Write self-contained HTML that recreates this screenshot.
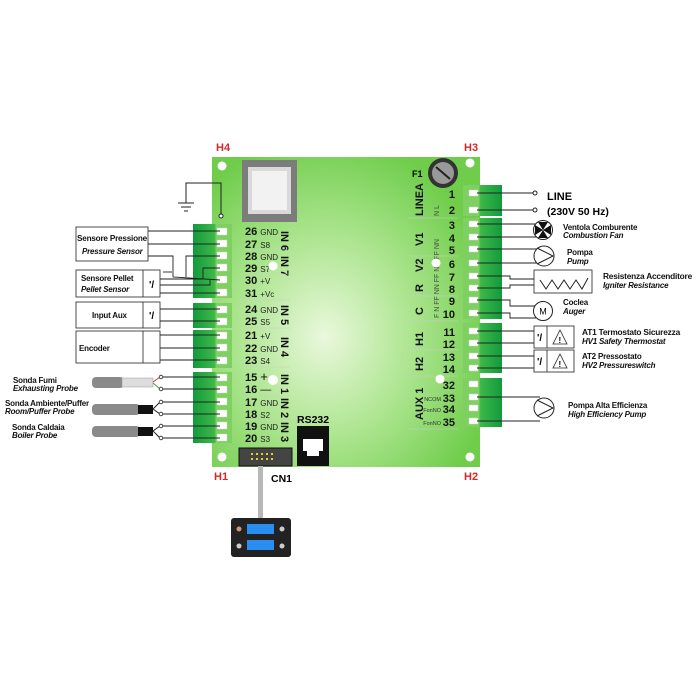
<!DOCTYPE html>
<html><head><meta charset="utf-8"><style>
html,body{margin:0;padding:0;background:#fff;width:700px;height:700px;overflow:hidden}
svg{display:block}
text{font-family:"Liberation Sans",sans-serif}
.b{font-weight:bold}
.lbl{font-size:8px;font-weight:bold;fill:#111;letter-spacing:-0.2px}
.it{font-style:italic}
.n{font-size:11px;font-weight:bold;fill:#111}
.s{font-size:8px;fill:#222;font-weight:normal}
</style></head><body>
<svg width="700" height="700" viewBox="0 0 700 700" xmlns="http://www.w3.org/2000/svg">
<defs>
<radialGradient id="bg" cx="0.42" cy="0.58" r="0.65">
<stop offset="0" stop-color="#eaf8dc"/><stop offset="0.5" stop-color="#ade590"/><stop offset="1" stop-color="#6fcd4b"/>
</radialGradient>
<linearGradient id="tl" x1="0" x2="1"><stop offset="0" stop-color="#139a3c"/><stop offset="0.55" stop-color="#3cb848"/><stop offset="0.6" stop-color="#7ed160"/><stop offset="1" stop-color="#7ed160"/></linearGradient>
<linearGradient id="tr" x1="0" x2="1"><stop offset="0" stop-color="#7ed160"/><stop offset="0.4" stop-color="#7ed160"/><stop offset="0.45" stop-color="#3cb848"/><stop offset="1" stop-color="#139a3c"/></linearGradient>
</defs>
<rect x="212" y="157" width="268" height="310" fill="url(#bg)"/>
<circle cx="222" cy="166" r="4.5" fill="#fff"/><circle cx="470" cy="163" r="4.5" fill="#fff"/>
<circle cx="222" cy="457" r="4.5" fill="#fff"/><circle cx="470" cy="457" r="4.5" fill="#fff"/>
<text x="216" y="151" class="b" font-size="11" fill="#d42a2a">H4</text>
<text x="464" y="151" class="b" font-size="11" fill="#d42a2a">H3</text>
<text x="214" y="480" class="b" font-size="11" fill="#d42a2a">H1</text>
<text x="464" y="480" class="b" font-size="11" fill="#d42a2a">H2</text>
<rect x="242" y="160" width="55" height="62" fill="#7c7c7c"/>
<rect x="248" y="167" width="43" height="47" fill="#d9d9d9"/>
<rect x="252" y="171" width="35" height="39" fill="#f2f2f2"/>
<circle cx="443" cy="173" r="15" fill="#333"/><circle cx="443" cy="173" r="11" fill="#999"/>
<line x1="436" y1="167" x2="450" y2="179" stroke="#222" stroke-width="2"/>
<text x="412" y="177" class="b" font-size="9">F1</text>
<polyline points="221,214 221,183 186,183 186,203" fill="none" stroke="#222" stroke-width="1"/>
<circle cx="221" cy="216" r="2" fill="#fff" stroke="#222"/>
<line x1="178" y1="203" x2="194" y2="203" stroke="#222"/><line x1="181" y1="207" x2="191" y2="207" stroke="#222"/><line x1="184" y1="211" x2="188" y2="211" stroke="#222"/>
<g fill="url(#tl)">
<rect x="193" y="224" width="39" height="74"/><rect x="193" y="303" width="39" height="25"/>
<rect x="193" y="330" width="39" height="38"/><rect x="193" y="372" width="39" height="71"/>
</g>
<g fill="#fff" stroke="#ccc" stroke-width="0.5">
<rect x="217" y="228" width="10" height="7"/><rect x="217" y="240" width="10" height="7"/><rect x="217" y="252" width="10" height="7"/><rect x="217" y="264" width="10" height="7"/><rect x="217" y="276" width="10" height="7"/><rect x="217" y="289" width="10" height="7"/>
<rect x="217" y="306" width="10" height="7"/><rect x="217" y="318" width="10" height="7"/>
<rect x="217" y="332" width="10" height="7"/><rect x="217" y="344" width="10" height="7"/><rect x="217" y="357" width="10" height="7"/>
<rect x="217" y="374" width="10" height="7"/><rect x="217" y="386" width="10" height="7"/><rect x="217" y="398" width="10" height="7"/><rect x="217" y="410" width="10" height="7"/><rect x="217" y="422" width="10" height="7"/><rect x="217" y="434" width="10" height="7"/>
</g>
<g>
<text x="245" y="235" class="n">26 <tspan class="s" font-size="9">GND</tspan></text>
<text x="245" y="248" class="n">27 <tspan class="s">S8</tspan></text>
<text x="245" y="260" class="n">28 <tspan class="s" font-size="9">GND</tspan></text>
<text x="245" y="272" class="n">29 <tspan class="s">S7</tspan></text>
<text x="245" y="284" class="n">30 <tspan class="s">+V</tspan></text>
<text x="245" y="297" class="n">31 <tspan class="s">+Vc</tspan></text>
<text x="245" y="313" class="n">24 <tspan class="s" font-size="9">GND</tspan></text>
<text x="245" y="325" class="n">25 <tspan class="s">S5</tspan></text>
<text x="245" y="339" class="n">21 <tspan class="s">+V</tspan></text>
<text x="245" y="352" class="n">22 <tspan class="s">GND</tspan></text>
<text x="245" y="364" class="n">23 <tspan class="s">S4</tspan></text>
<text x="245" y="381" class="n">15 <tspan font-size="13" font-weight="normal">+</tspan></text>
<text x="245" y="393" class="n">16 <tspan font-size="11" font-weight="normal">—</tspan></text>
<text x="245" y="406" class="n">17 <tspan class="s" font-size="9">GND</tspan></text>
<text x="245" y="418" class="n">18 <tspan class="s">S2</tspan></text>
<text x="245" y="430" class="n">19 <tspan class="s" font-size="9">GND</tspan></text>
<text x="245" y="442" class="n">20 <tspan class="s">S3</tspan></text>
</g>
<g class="n" font-size="10">
<text transform="translate(281,231) rotate(90)">IN 6</text>
<text transform="translate(281,256) rotate(90)">IN 7</text>
<text transform="translate(281,305) rotate(90)">IN 5</text>
<text transform="translate(281,337) rotate(90)">IN 4</text>
<text transform="translate(281,374) rotate(90)">IN 1</text>
<text transform="translate(281,398) rotate(90)">IN 2</text>
<text transform="translate(281,422) rotate(90)">IN 3</text>
</g>
<g stroke="#ccc" stroke-width="0.6">
<line x1="243" y1="250" x2="290" y2="250"/><line x1="243" y1="274" x2="290" y2="274"/><line x1="243" y1="300" x2="290" y2="300"/><line x1="243" y1="328" x2="290" y2="328"/><line x1="243" y1="367" x2="290" y2="367"/><line x1="243" y1="396" x2="290" y2="396"/><line x1="243" y1="420" x2="290" y2="420"/>
</g>
<circle cx="273" cy="266" r="4.5" fill="#fff"/><circle cx="273" cy="380" r="5" fill="#fff"/>
<g fill="#fff" stroke="#222" stroke-width="0.8">
<rect x="76" y="227" width="72" height="34"/>
<rect x="76" y="270" width="84" height="27"/><line x1="143" y1="270" x2="143" y2="297"/>
<rect x="76" y="302" width="84" height="26"/><line x1="143" y1="302" x2="143" y2="328"/>
<rect x="76" y="331" width="84" height="32"/><line x1="143" y1="331" x2="143" y2="363"/>
</g>
<text x="77" y="241" class="lbl" textLength="70" lengthAdjust="spacingAndGlyphs">Sensore Pressione</text>
<text x="82" y="254" class="lbl it">Pressure Sensor</text>
<text x="81" y="281" class="lbl">Sensore Pellet</text>
<text x="81" y="292" class="lbl it">Pellet Sensor</text>
<text x="92" y="318" class="lbl">Input Aux</text>
<text x="79" y="351" class="lbl">Encoder</text>
<text x="149" y="288" font-size="10" class="b">ʹ/</text>
<text x="149" y="319" font-size="10" class="b">ʹ/</text>
<g fill="none" stroke="#222" stroke-width="0.9">
<line x1="148" y1="231" x2="220" y2="231"/><line x1="148" y1="244" x2="220" y2="244"/>
<polyline points="148,256 173,256 173,277 220,280"/>
<polyline points="186,277 186,256 220,256"/>
<polyline points="160,279 203,279 203,268 220,268"/>
<polyline points="160,285 210,285 210,280"/>
<line x1="160" y1="293" x2="220" y2="293"/>
<polyline points="163,272 172,272"/>
<line x1="160" y1="309" x2="220" y2="309"/><line x1="160" y1="321" x2="220" y2="321"/>
<line x1="160" y1="335" x2="220" y2="335"/><line x1="160" y1="348" x2="220" y2="348"/><line x1="160" y1="360" x2="220" y2="360"/>
<line x1="162" y1="377" x2="220" y2="377"/><line x1="162" y1="389" x2="220" y2="389"/>
<line x1="162" y1="402" x2="220" y2="402"/><line x1="162" y1="414" x2="220" y2="414"/>
<line x1="162" y1="426" x2="220" y2="426"/><line x1="162" y1="438" x2="220" y2="438"/>
</g>
<rect x="92" y="377" width="32" height="11" rx="4" fill="#8a8a8a"/>
<rect x="122" y="378" width="31" height="9" fill="#ddd" stroke="#999" stroke-width="0.5"/>
<line x1="153" y1="382" x2="160" y2="377" stroke="#d33"/><line x1="153" y1="383" x2="160" y2="389" stroke="#3a3"/>
<rect x="92" y="404" width="48" height="11" rx="4" fill="#8a8a8a"/><rect x="138" y="405" width="15" height="9" fill="#111"/>
<polyline points="160,402 153,409 160,414" fill="none" stroke="#222"/>
<rect x="92" y="426" width="48" height="11" rx="4" fill="#8a8a8a"/><rect x="138" y="427" width="15" height="9" fill="#111"/>
<polyline points="160,426 153,431 160,438" fill="none" stroke="#222"/>
<g fill="#fff" stroke="#222" stroke-width="0.8">
<circle cx="161" cy="377" r="1.8"/><circle cx="161" cy="389" r="1.8"/><circle cx="161" cy="402" r="1.8"/><circle cx="161" cy="414" r="1.8"/><circle cx="161" cy="426" r="1.8"/><circle cx="161" cy="438" r="1.8"/>
</g>
<text x="13" y="383" class="lbl">Sonda Fumi</text><text x="13" y="391" class="lbl it">Exhausting Probe</text>
<text x="5" y="406" class="lbl">Sonda Ambiente/Puffer</text><text x="5" y="414" class="lbl it">Room/Puffer Probe</text>
<text x="12" y="430" class="lbl">Sonda Caldaia</text><text x="12" y="438" class="lbl it">Boiler Probe</text>
<g fill="url(#tr)">
<rect x="463" y="185" width="39" height="31"/><rect x="463" y="218" width="39" height="101"/>
<rect x="463" y="323" width="39" height="50"/><rect x="463" y="378" width="39" height="49"/>
</g>
<g fill="#fff" stroke="#ccc" stroke-width="0.5">
<rect x="469" y="190" width="9" height="6"/><rect x="469" y="207" width="9" height="6"/>
<rect x="469" y="221" width="9" height="6"/><rect x="469" y="234" width="9" height="6"/><rect x="469" y="246" width="9" height="6"/><rect x="469" y="260" width="9" height="6"/><rect x="469" y="273" width="9" height="6"/><rect x="469" y="285" width="9" height="6"/><rect x="469" y="297" width="9" height="6"/><rect x="469" y="310" width="9" height="6"/>
<rect x="469" y="328" width="9" height="6"/><rect x="469" y="340" width="9" height="6"/><rect x="469" y="353" width="9" height="6"/><rect x="469" y="365" width="9" height="6"/>
<rect x="469" y="381" width="9" height="6"/><rect x="469" y="394" width="9" height="6"/><rect x="469" y="405" width="9" height="6"/><rect x="469" y="418" width="9" height="6"/>
</g>
<g class="n" text-anchor="end">
<text x="455" y="198">1</text><text x="455" y="214">2</text><text x="455" y="229">3</text><text x="455" y="242">4</text><text x="455" y="254">5</text><text x="455" y="268">6</text><text x="455" y="281">7</text><text x="455" y="293">8</text><text x="455" y="305">9</text><text x="455" y="318">10</text>
<text x="455" y="336">11</text><text x="455" y="348">12</text><text x="455" y="361">13</text><text x="455" y="373">14</text>
<text x="455" y="389">32</text><text x="455" y="402">33</text><text x="455" y="413">34</text><text x="455" y="426">35</text>
</g>
<g font-size="5.5" fill="#333" text-anchor="end">
<text x="441" y="401">NCOM</text><text x="441" y="412">FonNO</text><text x="441" y="425">FonNO</text>
</g>
<g class="n" font-size="10">
<text transform="translate(423,216) rotate(-90)">LINEA</text>
<text transform="translate(423,246) rotate(-90)">V1</text>
<text transform="translate(423,272) rotate(-90)">V2</text>
<text transform="translate(423,292) rotate(-90)">R</text>
<text transform="translate(423,315) rotate(-90)">C</text>
<text transform="translate(423,346) rotate(-90)">H1</text>
<text transform="translate(423,371) rotate(-90)">H2</text>
<text transform="translate(423,420) rotate(-90)">AUX 1</text>
</g>
<g font-size="7" fill="#444">
<text transform="translate(439,216) rotate(-90)">N  L</text>
<text transform="translate(439,318) rotate(-90)">F N FF NN FF NN FF NN</text>
</g>
<g stroke="#ccc" stroke-width="0.6">
<line x1="408" y1="218" x2="458" y2="218"/><line x1="408" y1="256" x2="458" y2="256"/><line x1="408" y1="296" x2="458" y2="296"/><line x1="408" y1="321" x2="458" y2="321"/><line x1="408" y1="350" x2="458" y2="350"/><line x1="408" y1="376" x2="458" y2="376"/><line x1="408" y1="429" x2="458" y2="429"/>
</g>
<circle cx="436" cy="263" r="4.5" fill="#fff"/><circle cx="440" cy="379" r="4.5" fill="#fff"/>
<g fill="none" stroke="#222" stroke-width="0.9">
<line x1="477" y1="193" x2="533" y2="193"/><line x1="477" y1="210" x2="533" y2="210"/>
<line x1="477" y1="224" x2="543" y2="224"/><line x1="477" y1="237" x2="543" y2="237"/>
<line x1="477" y1="249" x2="540" y2="249"/><line x1="477" y1="263" x2="540" y2="263"/>
<polyline points="477,276 510,276 510,279 534,279"/><polyline points="477,288 510,288 510,285 534,285"/>
<polyline points="477,300 510,300 510,306 536,306"/><polyline points="477,313 510,313 510,318 536,318"/>
<line x1="477" y1="331" x2="534" y2="331"/><line x1="477" y1="343" x2="534" y2="343"/>
<line x1="477" y1="356" x2="534" y2="356"/><line x1="477" y1="368" x2="534" y2="368"/>
<line x1="477" y1="397" x2="540" y2="397"/><line x1="477" y1="421" x2="540" y2="421"/>
</g>
<circle cx="535" cy="193" r="2" fill="#fff" stroke="#222"/><circle cx="535" cy="210" r="2" fill="#fff" stroke="#222"/>
<text x="547" y="200" class="b" font-size="11">LINE</text>
<text x="547" y="215" class="b" font-size="10.5">(230V 50 Hz)</text>
<circle cx="543" cy="230" r="9.5" fill="#fff" stroke="#222"/>
<path d="M543,230 L538,222 L548,222Z M543,230 L538,238 L548,238Z M543,230 L535,225 L535,235Z M543,230 L551,225 L551,235Z" fill="#111"/>
<text x="563" y="230" class="lbl">Ventola Comburente</text><text x="563" y="238" class="lbl it">Combustion Fan</text>
<circle cx="544" cy="256" r="10" fill="#fff" stroke="#222"/><polyline points="537,248 553,256 537,264" fill="none" stroke="#222"/>
<text x="567" y="255" class="lbl">Pompa</text><text x="567" y="264" class="lbl it">Pump</text>
<rect x="534" y="270" width="58" height="23" fill="#fff" stroke="#222" stroke-width="0.8"/>
<polyline points="540,280 546,289 552,280 558,289 564,280 570,289 576,280 582,289 588,278" fill="none" stroke="#222"/>
<text x="603" y="279" class="lbl" textLength="89" lengthAdjust="spacingAndGlyphs">Resistenza Accenditore</text><text x="603" y="288" class="lbl it">Igniter Resistance</text>
<circle cx="543" cy="311" r="9.5" fill="#fff" stroke="#222"/><text x="543" y="314.5" font-size="9" text-anchor="middle">M</text>
<text x="563" y="305" class="lbl">Coclea</text><text x="563" y="314" class="lbl it">Auger</text>
<g fill="#fff" stroke="#222" stroke-width="0.8">
<rect x="534" y="326" width="40" height="22"/><line x1="547" y1="326" x2="547" y2="348"/>
<rect x="534" y="350" width="40" height="22"/><line x1="547" y1="350" x2="547" y2="372"/>
<polygon points="560,330 553,344 567,344"/><polygon points="560,354 553,368 567,368"/>
</g>
<text x="558.5" y="343" font-size="8" class="b">!</text><text x="558.5" y="367" font-size="8" class="b">!</text>
<text x="537" y="341" font-size="10" class="b">ʹ/</text><text x="537" y="365" font-size="10" class="b">ʹ/</text>
<text x="582" y="335" class="lbl" textLength="98" lengthAdjust="spacingAndGlyphs">AT1 Termostato Sicurezza</text><text x="582" y="344" class="lbl it">HV1 Safety Thermostat</text>
<text x="582" y="359" class="lbl">AT2 Pressostato</text><text x="582" y="368" class="lbl it">HV2 Pressureswitch</text>
<circle cx="544" cy="408" r="10" fill="#fff" stroke="#222"/><polyline points="537,400 553,408 537,416" fill="none" stroke="#222"/>
<text x="568" y="408" class="lbl">Pompa Alta Efficienza</text><text x="568" y="417" class="lbl it">High Efficiency Pump</text>
<text x="297" y="423" class="b" font-size="10.5">RS232</text>
<rect x="297" y="426" width="32" height="40" fill="#111"/>
<path d="M303,439 h20 v12 h-4 v5 h-12 v-5 h-4z" fill="#fff"/>
<rect x="239" y="448" width="53" height="18" fill="#444" stroke="#111"/>
<g fill="#e8d020"><rect x="251" y="453" width="2" height="2"/><rect x="256" y="453" width="2" height="2"/><rect x="261" y="453" width="2" height="2"/><rect x="266" y="453" width="2" height="2"/><rect x="271" y="453" width="2" height="2"/>
<rect x="251" y="458" width="2" height="2"/><rect x="256" y="458" width="2" height="2"/><rect x="261" y="458" width="2" height="2"/><rect x="266" y="458" width="2" height="2"/><rect x="271" y="458" width="2" height="2"/></g>
<text x="271" y="482" class="b" font-size="10.5">CN1</text>
<rect x="258" y="466" width="5" height="53" fill="#b8b8b8"/>
<rect x="231" y="518" width="60" height="39" rx="3" fill="#222"/>
<rect x="247" y="524" width="27" height="10" fill="#2a8ef0"/><rect x="247" y="540" width="27" height="10" fill="#2a8ef0"/>
<circle cx="239" cy="529" r="2.5" fill="#c97"/><circle cx="239" cy="546" r="2.5" fill="#ccc"/><circle cx="282" cy="529" r="2.5" fill="#ccc"/><circle cx="282" cy="546" r="2.5" fill="#ccc"/>
</svg>
</body></html>
